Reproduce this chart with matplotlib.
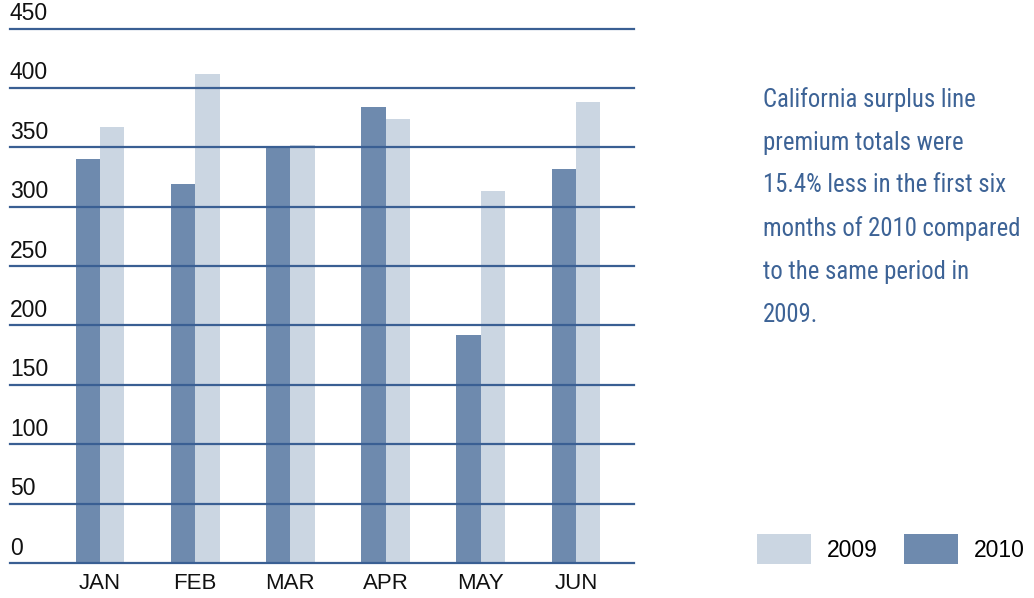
import matplotlib
matplotlib.use("Agg")
import matplotlib.pyplot as plt
from matplotlib.patches import Patch
import numpy as np

months = ["JAN", "FEB", "MAR", "APR", "MAY", "JUN"]
values_2010 = [340, 319, 350, 384, 192, 332]
values_2009 = [367, 412, 352, 374, 313, 388]
y_ticks = [0, 50, 100, 150, 200, 250, 300, 350, 400, 450]
note_lines = ["California surplus line", "premium totals were",
              "15.4% less in the first six", "months of 2010 compared",
              "to the same period in", "2009."]

C2010 = "#6e8aae"
C2009 = "#cbd6e2"
GRID = "#3a5f93"
TEXTC = "#3d6396"

plt.rcParams['font.family'] = ['Liberation Sans', 'DejaVu Sans']

W, H = 1034, 598
fig = plt.figure(figsize=(W / 100, H / 100), dpi=100)
ax = fig.add_axes([10 / W, 1 - 563 / H, 624 / W, (563 - 28.5) / H])

x = np.arange(len(months))
bw = 0.257
ax.bar(x - bw / 2, values_2010, width=bw, color=C2010, zorder=2, label="2010")
ax.bar(x + bw / 2, values_2009, width=bw, color=C2009, zorder=2, label="2009")

ax.set_xlim(-0.945, 5.609)
ax.set_ylim(0, 450)

for v in y_ticks:
    ax.axhline(v, color=GRID, lw=1.6, zorder=3, clip_on=False)
    ax.annotate(str(v), xy=(0, v), xycoords=('axes fraction', 'data'),
                xytext=(0, 2.5), textcoords='offset points',
                ha='left', va='bottom', fontsize=16.5, color='#111111')

for s in ax.spines.values():
    s.set_visible(False)
ax.set_yticks([])
ax.set_xticks(x)
ax.set_xticklabels(months, fontsize=16, color='#111111')
ax.tick_params(axis='x', length=0, pad=7)

for i, line in enumerate(note_lines):
    fig.text(763 / W, 1 - (97 + 43 * i) / H, line, ha='left', va='center_baseline',
             fontsize=17.8, color=TEXTC,
             family=['Liberation Sans Narrow', 'Roboto Condensed', 'DejaVu Sans Condensed', 'Roboto'])

handles = [Patch(facecolor=C2009, edgecolor='none', label='2009'),
           Patch(facecolor=C2010, edgecolor='none', label='2010')]
fig.legend(handles=handles, loc='lower right', bbox_to_anchor=(1.0, 1 - 573 / H),
           ncol=2, frameon=False, fontsize=16.5, handlelength=2.36, handleheight=1.6,
           handletextpad=0.7, columnspacing=1.13, borderpad=0.2, borderaxespad=0.2)

fig.savefig("out.png", dpi=100)
